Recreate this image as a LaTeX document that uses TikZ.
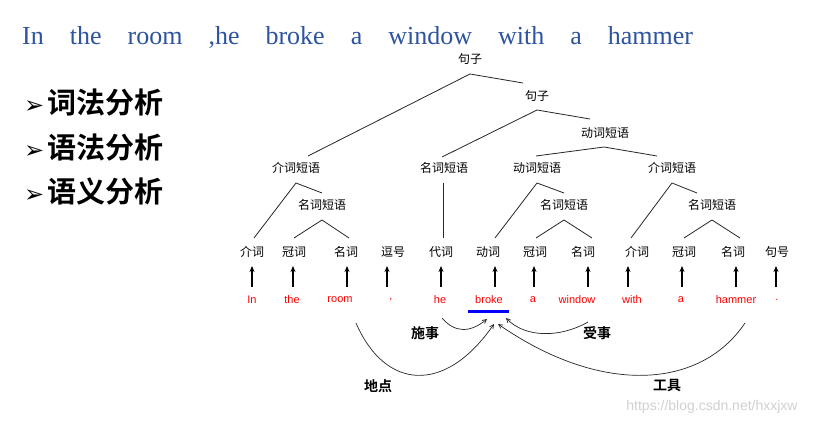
\documentclass[tikz,border=0pt]{standalone}
\usepackage{fontspec}
\setmainfont{Liberation Serif}
\newfontfamily\cjk{Noto Sans CJK SC}
\newfontfamily\cjkb{Noto Sans CJK SC Bold}
\newfontfamily\dv{DejaVu Sans}
\newfontfamily\ls{Liberation Sans}
\usetikzlibrary{arrows.meta}
\definecolor{titleblue}{RGB}{46,84,160}
\newcommand\gp{\hspace{26pt}}
\begin{document}
\begin{tikzpicture}[x=1pt,y=-1pt,
  lab/.style={font=\cjk\fontsize{12}{12}\selectfont,inner sep=0pt},
  wd/.style={font=\ls\fontsize{11}{11}\selectfont,text=red,inner sep=0pt},
  role/.style={font=\cjkb\fontsize{14}{14}\selectfont,inner sep=0pt},
  bul/.style={font=\cjkb\fontsize{29}{29}\selectfont,inner sep=0pt,anchor=west},
  tl/.style={line width=0.8pt,draw=black!85},
  up/.style={line width=1.4pt,-{Stealth[length=6pt,width=5pt]}},
  arc/.style={line width=0.7pt,draw=black!85,-{Straight Barb[length=4pt,width=4pt]}}]
\useasboundingbox (0,0) rectangle (820,425);
\fill[white] (0,0) rectangle (820,425);
\node[anchor=west,text=titleblue,font=\fontsize{26}{26}\selectfont,inner sep=0pt] (title) at (22,37) {In\gp the\gp room\gp ,he\gp broke\gp a\gp window\gp with\gp a\gp hammer};
\node[bul] (b1) at (24,103) {{\dv\bfseries\fontsize{24}{24}\selectfont ➢}\hspace{3pt}词法分析};
\node[bul] (b2) at (24,148) {{\dv\bfseries\fontsize{24}{24}\selectfont ➢}\hspace{3pt}语法分析};
\node[bul] (b3) at (24,191) {{\dv\bfseries\fontsize{24}{24}\selectfont ➢}\hspace{3pt}语义分析};
% tree
\node[lab] (s1) at (470,59) {句子};
\node[lab] (s2) at (537,96) {句子};
\node[lab] (vp1) at (605,133) {动词短语};
\node[lab] (pp1) at (296,168) {介词短语};
\node[lab] (np1) at (444,168) {名词短语};
\node[lab] (vp2) at (537,168) {动词短语};
\node[lab] (pp2) at (672,168) {介词短语};
\node[lab] (np2) at (322,205) {名词短语};
\node[lab] (np3) at (564,205) {名词短语};
\node[lab] (np4) at (712,205) {名词短语};
\foreach \n/\x/\t in {p1/252/介词,p2/294/冠词,p3/346/名词,p4/393/逗号,p5/441/代词,p6/488/动词,p7/535/冠词,p8/583/名词,p9/637/介词,p10/684/冠词,p11/733/名词,p12/777/句号}
  \node[lab] (\n) at (\x,252) {\t};
\draw[tl] (308,156) -- (470,74) -- (523,83);
\draw[tl] (442,157) -- (537,110) -- (590,119);
\draw[tl] (536,156) -- (604,147) -- (657,156);
\draw[tl] (254,238) -- (296,183) -- (322,193);
\draw[tl] (294,238) -- (322,220) -- (349,238);
\draw[tl] (443,183) -- (443,238);
\draw[tl] (495,238) -- (537,183) -- (564,193);
\draw[tl] (536,238) -- (564,220) -- (592,238);
\draw[tl] (631,238) -- (672,183) -- (697,193);
\draw[tl] (684,238) -- (712,220) -- (740,238);
% words
\foreach \n/\x/\t/\a in {w1/252/In/252,w2/292/the/293,w3/340/room/347,w4/391/{,}/387,w5/440/he/441,w6/489/broke/495,w7/533/a/534,w8/577/window/588,w9/632/with/628,w10/681/a/682,w11/736/hammer/736,w12/777/./776}{
  \node[wd] (\n) at (\x,300) {\t};
  \draw[up] (\a,287) -- (\a,266);
}
\draw[blue,line width=3pt] (468,311) -- (509,311);
\coordinate (aS) at (442,318); \coordinate (aSe) at (487,319);
\coordinate (aP) at (588,322); \coordinate (aPe) at (506,318);
\coordinate (aL) at (356,323); \coordinate (aLe) at (494,324);
\coordinate (aT) at (745,323); \coordinate (aTe) at (498,324);
\draw[arc] (aS) .. controls (455,333) and (470,333) .. (aSe);
\draw[arc] (aP) .. controls (560,338) and (525,338) .. (aPe);
\draw[arc] (aL) .. controls (385,390) and (445,395) .. (aLe);
\draw[arc] (aT) .. controls (700,390) and (600,395) .. (aTe);
\node[role] (r1) at (425,333) {施事};
\node[role] (r2) at (597,333) {受事};
\node[role] (r3) at (378,386) {地点};
\node[role] (r4) at (667,386) {工具};
\node[font=\ls\fontsize{14}{14}\selectfont,text=black!18,inner sep=0pt] (wm) at (712,407) {https://blog.csdn.net/hxxjxw};
\end{tikzpicture}
\end{document}
